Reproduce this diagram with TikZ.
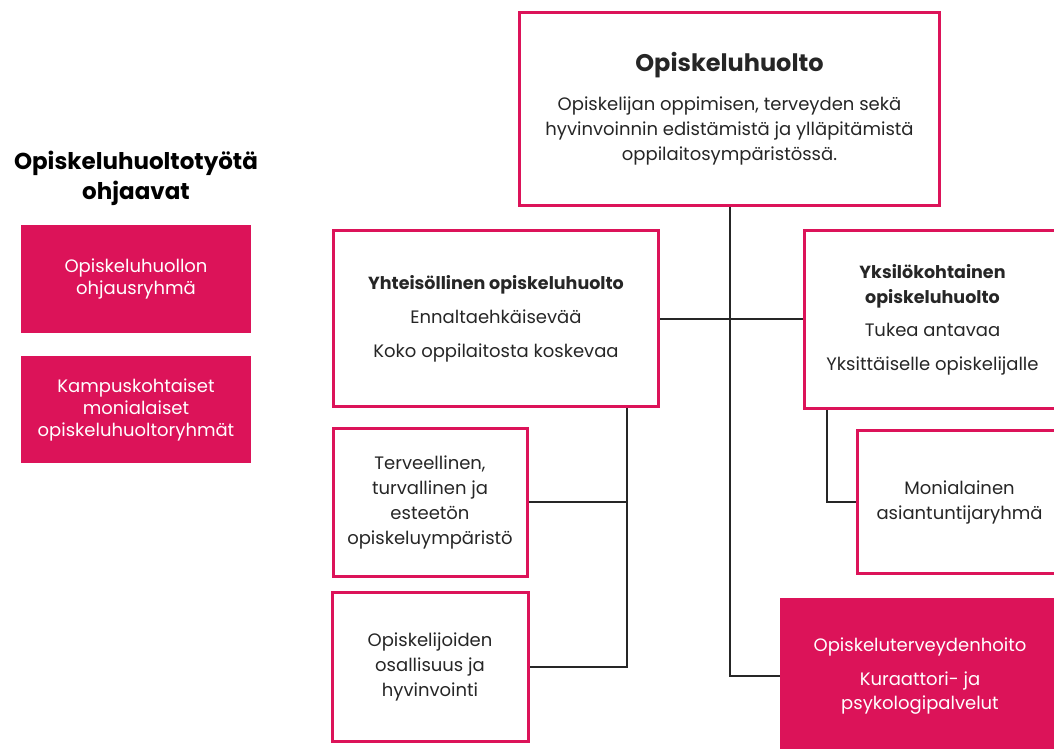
\documentclass[tikz,border=0pt]{standalone}
\usepackage{fontspec}
\setmainfont{Poppins}
\usepackage{tikz}
\definecolor{huoltopink}{RGB}{220,19,89}

\begin{document}
\begin{tikzpicture}[x=1pt,y=-1pt,
  white box/.style={rectangle,draw=huoltopink,line width=3pt,fill=white,align=center,text=black!85,font=\fontsize{18}{25}\selectfont},
  pink box/.style={rectangle,fill=huoltopink,align=center,text=white,font=\fontsize{18}{22}\selectfont},
  link/.style={draw=black!85,line width=2pt}]

	\useasboundingbox (0,0) rectangle (1054,748);

	\node (ohjaavat) at (136,178) [align=center,text=black,font=\fontsize{23}{30}\selectfont\bfseries] {Opiskeluhuoltotyötä\\ohjaavat};
	\node[pink box,minimum width=230pt,minimum height=108pt] (ryhma1) at (136,279) {Opiskeluhuollon\\ohjausryhmä};
	\node[pink box,minimum width=230pt,minimum height=107pt] (ryhma2) at (136,409.5) {Kampuskohtaiset\\monialaiset\\opiskeluhuoltoryhmät};

	\node[white box,minimum width=420pt,minimum height=193pt] (huolto) at (729.5,109)
		{{\fontsize{24}{28}\selectfont\bfseries Opiskeluhuolto}\\[14pt]
		 Opiskelijan oppimisen, terveyden sekä\\hyvinvoinnin edistämistä ja ylläpitämistä\\oppilaitosympäristössä.};
	\node[white box,minimum width=325pt,minimum height=176pt] (yhteis) at (496,318.5)
		{{\fontsize{17.5}{25}\selectfont\bfseries Yhteisöllinen opiskeluhuolto}\\[9pt]Ennaltaehkäisevää\\[9pt]Koko oppilaitosta koskevaa};
	\node[white box,minimum width=256pt,minimum height=178pt] (yksilo) at (932.5,319.5)
		{{\fontsize{17.5}{25}\selectfont\bfseries Yksilökohtainen}\\{\fontsize{17.5}{25}\selectfont\bfseries opiskeluhuolto}\\[8pt]Tukea antavaa\\[9pt]Yksittäiselle opiskelijalle};
	\node[white box,minimum width=194pt,minimum height=148pt] (ymparisto) at (430,502)
		{Terveellinen,\\turvallinen ja\\esteetön\\opiskeluympäristö};
	\node[white box,minimum width=196pt,minimum height=149pt] (osallisuus) at (430,666.5)
		{Opiskelijoiden\\osallisuus ja\\hyvinvointi};
	\node[white box,minimum width=204pt,minimum height=143pt] (monial) at (959.5,502)
		{Monialainen\\asiantuntijaryhmä};
	\node[pink box,minimum width=280pt,minimum height=156pt,font=\fontsize{18}{24}\selectfont] (hoito) at (920,676)
		{Opiskeluterveydenhoito\\[10pt]Kuraattori- ja\\psykologipalvelut};

	% connectors
	\path[link] (huolto.south) |- (hoito.west);
	\path[link] (yhteis.east) -- (yhteis.east -| yksilo.west);
	\path[link] ([xshift=131pt]yhteis.south) |- (ymparisto.east);
	\path[link] ([xshift=131pt]yhteis.south) |- (osallisuus.east);
	\path[link] ([xshift=23.5pt]yksilo.south west) |- (monial.west);
\end{tikzpicture}
\end{document}
